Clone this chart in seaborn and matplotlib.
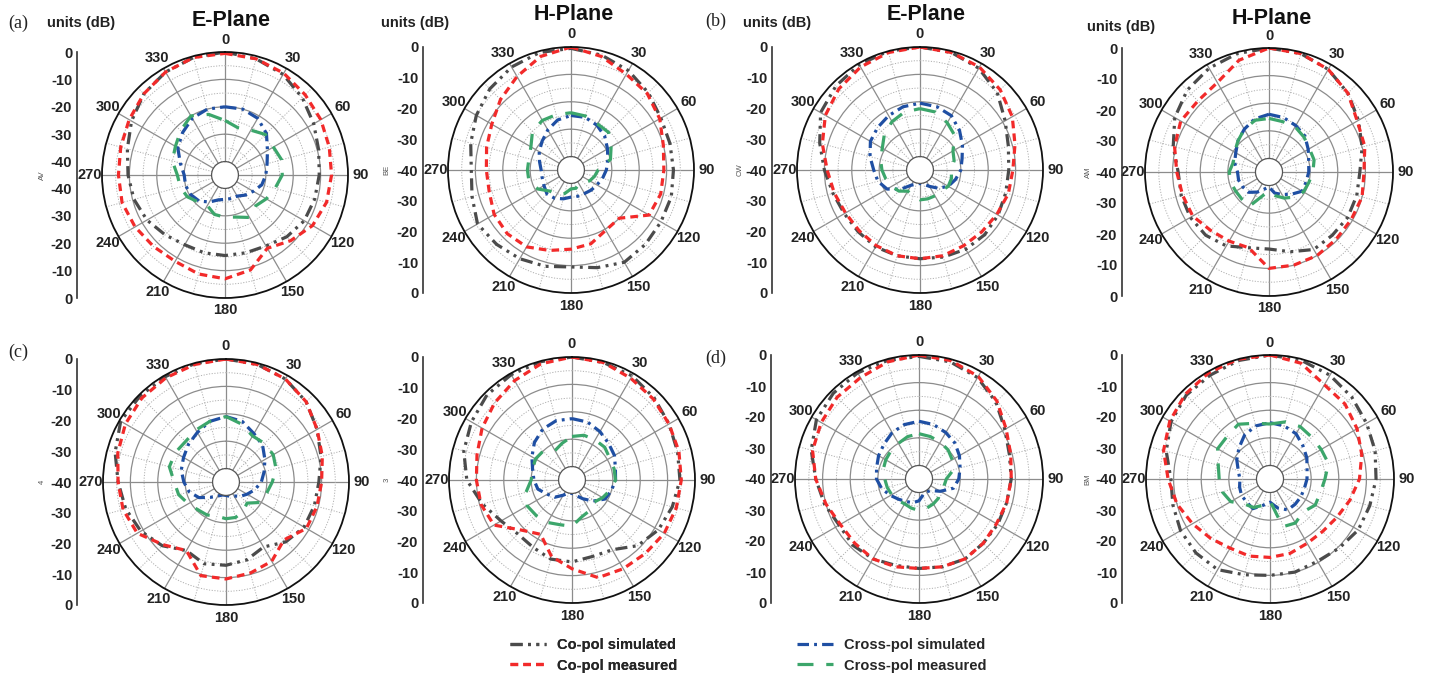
import numpy as np
import pandas as pd
import matplotlib
matplotlib.use("Agg")
import matplotlib.pyplot as plt
import seaborn as sns

sns.set_style("white")
plt.rcParams["font.family"] = ["Liberation Sans", "DejaVu Sans"]

# ---------------- data (dB, angles in degrees) ----------------
ANGLES = list(range(0, 360, 15))
ANGLE_LABELS = [str(a) for a in range(0, 360, 30)]
SCALE_LABELS = ["0", "-10", "-20", "-30", "-40"]
SCALE_VALUES = [0, -10, -20, -30, -40]
SERIES_NAMES = ["Co-pol simulated", "Co-pol measured", "Cross-pol simulated", "Cross-pol measured"]

a_E_co_sim = [0, -1, -2.5, -5, -7.5, -9.5, -10.5, -11, -11.5, -13, -15, -15.5, -15.5, -15.5, -15.5, -14, -12, -10.5, -9.5, -8, -5.5, -3, -1.5, -0.5]
a_E_co_meas = [-0.5, -1, -2, -3.5, -4.5, -5.5, -6, -6.5, -8, -11, -14, -9, -7, -7.5, -8.5, -8, -7, -6, -6, -5.5, -4.5, -3, -1.5, -0.5]
a_E_x_sim = [-20, -20, -21, -23.5, -27, -29, -30, -31, -33, -34.5, -36, -36, -36, -35.5, -33.5, -31.5, -30.5, -30, -30, -28, -25, -23, -21, -20]
a_E_x_meas = [-25, -27, -26, -24, -24.5, -23.5, -24, -26, -27.5, -29, -27, -29, -29.5, -30, -32, -31, -29, -28, -27.5, -25, -24, -22, -20, -22]

a_H_co_sim = [-0.5, -1.5, -3, -5, -7, -7.5, -7.5, -7, -7, -6.5, -6, -8, -9.5, -8.5, -7.5, -6.5, -5.5, -7.5, -8.5, -7, -5, -3, -1.5, -0.5]
a_H_co_meas = [0, -2, -4.5, -5.5, -7.5, -10, -11, -11, -12, -20, -19.5, -17, -16, -14.5, -12.5, -12, -12.5, -14, -14, -13, -11.5, -8.5, -5.5, -2]
a_H_x_sim = [-25, -25, -26, -27.5, -29.5, -31, -32, -33, -34, -34.5, -35, -35, -35, -34, -33, -32.5, -33.5, -34, -34, -33, -31.5, -30, -28, -26]
a_H_x_meas = [-24, -24.5, -25.5, -25.5, -28, -30, -35, -36, -37, -38.5, -39, -38, -38, -36, -34.5, -34, -31, -29, -29, -29, -28, -25, -24, -24]

b_E_co_sim = [0, -0.5, -2, -5, -9, -11.5, -12.5, -12.5, -12, -11.5, -11.5, -12, -12.5, -12.5, -12.5, -13, -13, -12, -10, -7, -3, -1.5, -0.5, 0]
b_E_co_meas = [0, -0.5, -1.5, -3.5, -6, -9, -11, -11.5, -12.5, -13, -13, -12.5, -12.5, -12.5, -13, -13.5, -13.5, -12.5, -11, -8, -5, -3, -1.5, -0.5]
b_E_x_sim = [-20.5, -21, -22, -24.5, -27, -29, -30, -31.5, -33, -35.5, -38, -39.5, -40, -39.5, -38.5, -35, -31, -29, -28, -26, -24, -23, -22, -21]
b_E_x_meas = [-22.5, -23, -25, -27, -31, -32, -33.5, -33, -33, -34, -34, -34, -34, -35, -36, -34, -33, -32, -31, -30, -29, -26.5, -24.5, -23]

b_H_co_sim = [0, -0.5, -2, -4.5, -7.5, -10, -12, -12, -12, -12.5, -12.5, -15, -17, -16.5, -14, -12.5, -12, -12, -12, -9, -5.5, -3, -1.5, -0.5]
b_H_co_meas = [0, -0.5, -2, -4.5, -8, -9, -10.5, -10, -10.5, -10.5, -10, -10, -10, -16.5, -16, -15, -13, -12.5, -11.5, -9.5, -8, -8.5, -7.5, -3]
b_H_x_sim = [-24, -24.5, -25.5, -26.5, -28.5, -30, -30.5, -31, -31, -33.5, -35.5, -37, -39.5, -38.5, -36.5, -34.5, -34, -33.5, -33.5, -32, -31, -29, -27, -25]
b_H_x_meas = [-25.5, -26, -26, -27, -28, -28, -29, -30, -30.5, -32, -34, -36, -38, -36, -30.5, -31, -31, -30.5, -30.5, -31.5, -30.5, -29, -27, -25.5]

c_E_co_sim = [0, -0.5, -1.5, -3.5, -6.5, -9, -11, -11.5, -12, -14, -17.5, -15.5, -14.5, -14, -16, -12, -9, -7, -5.5, -3, -0.5, -0.5, -0.5, -0.2]
c_E_co_meas = [0, -0.5, -1.5, -3.5, -6.5, -8.5, -10, -10.5, -11, -15, -11.5, -10.5, -9.5, -9.5, -16, -12.5, -7.5, -6, -5.5, -4, -2.5, -1.5, -1, -0.5]
c_E_x_sim = [-21, -22, -24.5, -26, -28.5, -30.5, -32, -34, -36, -37.5, -39, -39.5, -40, -40, -39, -37, -33.5, -31, -29.5, -28, -27, -25.5, -24, -22]
c_E_x_meas = [-21, -23, -25.5, -25, -25, -26, -28, -29.5, -30, -34, -32.5, -31.5, -31.5, -32, -31, -30.5, -29, -27, -26, -23.5, -23.5, -24, -23, -22]

c_H_co_sim = [0, -0.5, -1, -2.5, -4, -5, -5.5, -7, -8.5, -11, -15.5, -16, -15, -15, -16.5, -17, -15, -11, -6.5, -4, -2.5, -1, -0.5, -0.2]
c_H_co_meas = [0, -0.5, -2, -3, -4, -4.5, -5, -5.5, -6, -7, -7.5, -8, -12.5, -16, -22, -19, -12, -10.5, -10, -9, -7, -5, -3, -1]
c_H_x_sim = [-22.5, -23, -24.5, -26, -27, -28.5, -29, -30, -31, -34, -37, -39, -40, -40, -38.5, -36, -34.5, -32, -31, -30, -28, -25.5, -23.5, -22.5]
c_H_x_meas = [-29, -28, -28, -28, -29, -29, -29, -30.5, -32, -33.5, -32, -31, -28, -28, -27, -26.5, -26, -27.5, -30, -30, -29.5, -30, -32.5, -31]

d_E_co_sim = [-0.5, -1, -2.5, -5.5, -9, -11, -11.5, -12, -12, -12, -11.5, -12, -12.5, -12.5, -11.5, -11, -11.5, -9.5, -7.5, -4.5, -2, -1, -0.5, -0.5]
d_E_co_meas = [0, -0.5, -2, -5, -8.5, -10.5, -11.5, -12, -12.5, -12, -11.5, -12, -12.5, -12, -11.5, -12, -12, -10, -7.5, -5, -4, -3, -2.5, -1]
d_E_x_sim = [-24, -24.5, -25.5, -26.5, -28, -29.5, -30.5, -32, -36, -39, -39.5, -39, -37, -36, -35.5, -34.5, -33, -31, -29.5, -29, -28, -27, -25.5, -24.5]
d_E_x_meas = [-28.5, -29, -29.5, -30, -31, -32, -35, -35.5, -36, -35, -34.5, -34, -33.5, -34, -34.5, -34, -33.5, -33, -32.5, -31.5, -31, -30.5, -30, -29]

d_H_co_sim = [0, -0.5, -1.5, -3, -4.5, -5.5, -6.5, -7.5, -8, -9.5, -10.5, -10, -10, -9, -7, -7, -7.5, -8.5, -9, -6, -3.5, -2, -1.5, -0.5]
d_H_co_meas = [0, -1.5, -5.5, -6.5, -8.5, -10.5, -12.5, -15, -17, -18, -18, -17, -16.5, -16, -16, -14.5, -12.5, -10, -8, -5, -3, -1.5, -0.5, 0]
d_H_x_sim = [-24.5, -25, -26, -28, -29.5, -31, -31.5, -32, -32, -32, -32, -34, -36.5, -35, -32.5, -33, -33, -33.5, -34, -33, -31, -29, -26.5, -25]
d_H_x_meas = [-25, -23.5, -23, -23.5, -23.5, -23, -25, -26, -26, -28, -26.5, -27, -37, -35, -33, -32, -28.5, -27, -26.5, -25.5, -23, -23, -22, -24]

# ---------------- styles ----------------
STYLES = [
    dict(color="#4b4b4b", linestyle=(0, (3.8, 1.7, 0.9, 1.7, 0.9, 1.7)), lw=2.3),
    dict(color="#f22a2a", linestyle=(0, (2.4, 1.6)), lw=2.3),
    dict(color="#1f4fa3", linestyle=(0, (3.6, 1.6, 0.9, 1.6)), lw=2.3),
    dict(color="#3ca66b", linestyle=(0, (5.0, 4.0)), lw=2.3),
]

W, H = 1429, 677
fig = plt.figure(figsize=(W / 100, H / 100), dpi=100)

# layout (pixel units): center x, center y, radius, scale spine x, axis tag, tag x
panels = [
    dict(series=[a_E_co_sim, a_E_co_meas, a_E_x_sim, a_E_x_meas], cx=225, cy=175, R=123, sx=77, hole=True, tag="AV", tx=42),
    dict(series=[a_H_co_sim, a_H_co_meas, a_H_x_sim, a_H_x_meas], cx=571, cy=170, R=123, sx=423, hole=False, tag="BE", tx=387),
    dict(series=[b_E_co_sim, b_E_co_meas, b_E_x_sim, b_E_x_meas], cx=920, cy=170, R=123, sx=772, hole=False, tag="CW", tx=740),
    dict(series=[b_H_co_sim, b_H_co_meas, b_H_x_sim, b_H_x_meas], cx=1269, cy=172, R=124, sx=1122, hole=False, tag="AM", tx=1088),
    dict(series=[c_E_co_sim, c_E_co_meas, c_E_x_sim, c_E_x_meas], cx=226, cy=482, R=123, sx=77, hole=False, tag="4", tx=42),
    dict(series=[c_H_co_sim, c_H_co_meas, c_H_x_sim, c_H_x_meas], cx=572, cy=480, R=123, sx=423, hole=False, tag="3", tx=387),
    dict(series=[d_E_co_sim, d_E_co_meas, d_E_x_sim, d_E_x_meas], cx=919, cy=479, R=124, sx=771, hole=False, tag="", tx=740),
    dict(series=[d_H_co_sim, d_H_co_meas, d_H_x_sim, d_H_x_meas], cx=1270, cy=479, R=124, sx=1122, hole=False, tag="BM", tx=1088),
]

RMIN, RMAX, RORIGIN = -40, 0, -44.9
legend_handles = None

for p in panels:
    cx, cy, R = p["cx"], p["cy"], p["R"]
    ax = fig.add_axes([(cx - R) / W, (H - cy - R) / H, 2 * R / W, 2 * R / H], projection="polar")
    ax.set_theta_zero_location("N")
    ax.set_theta_direction(-1)
    for name, vals, st in zip(SERIES_NAMES, p["series"], STYLES):
        df = pd.DataFrame({
            "theta": np.deg2rad(ANGLES + [360]),
            "r": list(vals) + [vals[0]],
        })
        sns.lineplot(data=df, x="theta", y="r", ax=ax, sort=False, estimator=None,
                     legend=False, label=name, **st)
    ax.set_xlabel("")
    ax.set_ylabel("")
    ax.set_ylim(RMIN, RMAX)
    ax.set_rorigin(RORIGIN)
    ax.set_xticks(np.deg2rad(np.arange(0, 360, 30)))
    ax.set_xticklabels(ANGLE_LABELS, fontsize=10.5, fontweight="bold", color="#222222")
    ax.set_xticks(np.deg2rad(np.arange(15, 360, 30)), minor=True)
    ax.set_yticks([-30, -20, -10])
    ax.set_yticklabels([])
    ax.set_yticks([-35, -25, -15, -5], minor=True)
    ax.grid(which="major", color="#8c8c8c", lw=0.9, ls="-")
    ax.grid(which="minor", color="#b0b0b0", lw=0.7, ls=(0, (1.2, 1.6)))
    ax.tick_params(axis="x", which="major", pad=2, length=0)
    ax.tick_params(which="minor", length=0)
    ax.spines["polar"].set_color("#111111")
    ax.spines["polar"].set_linewidth(1.3)
    ax.spines["inner"].set_color("#555555")
    ax.spines["inner"].set_linewidth(0.9)
    if legend_handles is None:
        legend_handles = ax.get_lines()[:4]

    # linear dB scale at the left
    lax = fig.add_axes([p["sx"] / W, (H - cy - R) / H, 0.0004, 2 * R / H])
    lax.patch.set_alpha(0)
    for s in ["top", "right", "bottom"]:
        lax.spines[s].set_visible(False)
    lax.spines["left"].set_linewidth(1.2)
    lax.spines["left"].set_color("#333333")
    lax.set_xticks([])
    off = -RORIGIN if p["hole"] else -RMIN
    top_pos = [v + off for v in SCALE_VALUES]
    if p["hole"]:
        pos = top_pos + [-t for t in top_pos[::-1]]
        labs = SCALE_LABELS + SCALE_LABELS[::-1]
    else:
        pos = top_pos + [-t for t in top_pos[::-1][1:]]
        labs = SCALE_LABELS + SCALE_LABELS[::-1][1:]
    lax.set_ylim(-off, off)
    lax.set_yticks(pos)
    lax.set_yticklabels(labs, fontsize=10.5, fontweight="bold", color="#222222")
    minor_vals = [v for v in np.arange(-37.5, 0, 2.5) if v % 10 != 0]
    mpos = [v + off for v in minor_vals] + [-(v + off) for v in minor_vals]
    lax.set_yticks(mpos, minor=True)
    lax.tick_params(axis="y", which="major", direction="inout", length=5, width=1, pad=1, colors="#333333")
    lax.tick_params(axis="y", which="minor", direction="out", length=2.5, width=0.8, colors="#333333")
    for t in lax.get_yticklabels():
        t.set_color("#222222")
    if p["tag"]:
        fig.text(p["tx"] / W, 1 - cy / H, p["tag"], rotation=90, fontsize=5.5,
                 color="#555555", ha="center", va="center")

# titles and headings
for x, y, s in [(231, 21, "E-Plane"), (574, 14, "H-Plane"), (926, 14, "E-Plane"), (1272, 18, "H-Plane")]:
    fig.text(x / W, 1 - y / H, s, fontsize=15.5, fontweight="bold", ha="center", va="center", color="#111111")
for x, y in [(81, 23), (415, 23), (777, 23), (1121, 27)]:
    fig.text(x / W, 1 - y / H, "units (dB)", fontsize=10.5, fontweight="bold", ha="center", va="center", color="#222222")
for x, y, s in [(8, 23, "(a)"), (705, 21, "(b)"), (8, 352, "(c)"), (705, 358, "(d)")]:
    fig.text(x / W, 1 - y / H, s, fontsize=13, family="Liberation Serif", ha="left", va="center", color="#222222")

# legends
leg_kw = dict(loc="upper left", frameon=False, prop=dict(size=10.5, weight="bold"),
              handlelength=2.5, handletextpad=0.7, labelspacing=0.45,
              borderpad=0, borderaxespad=0)
leg1 = fig.legend(legend_handles[:2], SERIES_NAMES[:2],
                  bbox_to_anchor=(510 / W, 1 - 638 / H), **leg_kw)
leg2 = fig.legend(legend_handles[2:], SERIES_NAMES[2:],
                  bbox_to_anchor=(797 / W, 1 - 638 / H), **leg_kw)
fig.add_artist(leg1)

fig.savefig("out.png", dpi=100)
